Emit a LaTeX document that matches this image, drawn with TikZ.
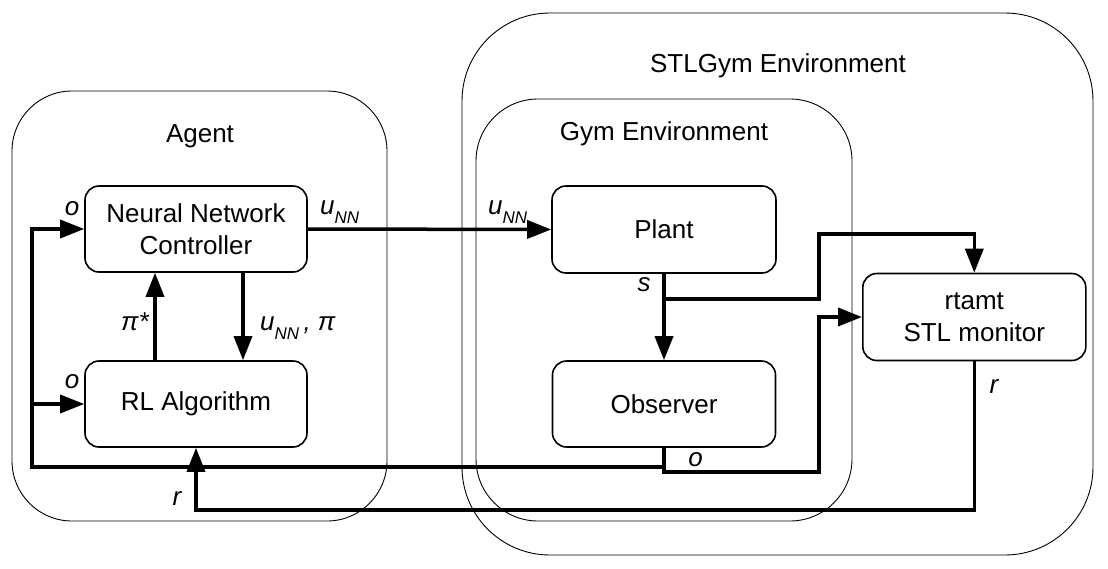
\documentclass[tikz,border=0pt]{standalone}
\usepackage{fontspec}
\setmainfont{Liberation Sans}
\usetikzlibrary{arrows.meta}
\begin{document}
\begin{tikzpicture}[x=1pt,y=-1pt,
  grp/.style={draw, line width=0.9pt, rounded corners=#1, inner sep=0pt},
  blk/.style={draw, line width=1.6pt, rounded corners=14pt, fill=white,
    minimum width=223pt, minimum height=86pt, align=center, inner sep=0pt,
    font=\fontsize{26}{31.5}\selectfont},
  ttl/.style={font=\fontsize{26}{31}\selectfont, anchor=base, inner sep=0pt},
  lbl/.style={font=\fontsize{26}{31}\selectfont\itshape, inner sep=0pt},
  sig/.style={line width=3.5pt},
  arr/.style={sig, -{Triangle[length=24pt,width=18pt]}},
]
\useasboundingbox (0,0) rectangle (1108,568);

% containers
\node[grp=88pt, minimum width=631pt, minimum height=542pt] (stlgym) at (777.5,284) {};
\node[grp=62pt, minimum width=376pt, minimum height=422pt] (gym) at (664,310) {};
\node[grp=60pt, minimum width=375pt, minimum height=430pt] (agent) at (199.5,306) {};
\node[ttl] (stlgymT) at (778,72.7) {STLGym Environment};
\node[ttl] (gymT) at (664,140) {Gym Environment};
\node[ttl] (agentT) at (200,142.7) {Agent};

% blocks
\node[blk, minimum width=222pt] (nn) at (196,229) {Neural Network\\Controller};
\node[blk, minimum width=222pt] (rl) at (196,404) {RL Algorithm};
\node[blk, minimum width=224pt, minimum height=87pt] (plant) at (664,229.5) {Plant};
\node[blk] (observer) at (664,404) {Observer};
\node[blk, minimum height=87pt] (monitor) at (974.3,317) {rtamt\\STL monitor};

% connectors
\draw[arr] (nn.east) -- (plant.west);
\draw[arr] ([xshift=47pt]nn.south) -- ([xshift=47pt]rl.north);
\draw[arr] ([xshift=-41pt]rl.north) -- ([xshift=-41pt]nn.south);
\draw[arr] (plant.south) -- (observer.north);
\path (plant.south) ++(0,25) coordinate (sbr);
\coordinate (sup) at (819,234);
\draw[arr] (sbr) -| (sup) -| (monitor.north);
\coordinate (obr) at (819,472);
\draw[arr] (observer.south) |- (obr) |- (monitor.west);
\coordinate (fb) at (32,467);
\draw[arr] (observer.south) |- (fb) |- (nn.west);
\draw[arr] (fb |- rl.west) -- (rl.west);
\coordinate (rb) at (196,510);
\draw[arr] (monitor.south) |- (rb) -- (rl.south);

% labels
\node[lbl] (lo1) at (72,209) {o};
\node[lbl] (lo2) at (72,382) {o};
\node[lbl, anchor=base] (lpi) at (135,330) {π*};
\node[lbl, anchor=base west] (lupi) at (260,330) {u\raisebox{-9pt}{\fontsize{17}{17}\selectfont NN}\,, π};
\node[lbl, anchor=base west] (lu1) at (320,214) {u\raisebox{-9pt}{\fontsize{17}{17}\selectfont NN}};
\node[lbl, anchor=base west] (lu2) at (488,214) {u\raisebox{-9pt}{\fontsize{17}{17}\selectfont NN}};
\node[lbl] (ls) at (644,285) {s};
\node[lbl] (lo3) at (695.5,459.5) {o};
\node[lbl] (lr1) at (177,498) {r};
\node[lbl] (lr2) at (994,386.7) {r};
\end{tikzpicture}
\end{document}
